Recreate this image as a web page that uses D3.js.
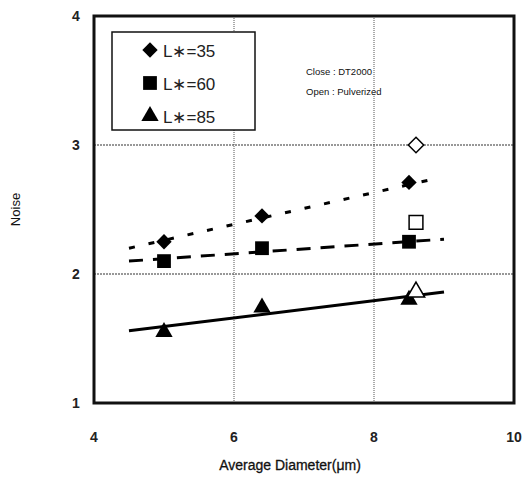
<!DOCTYPE html>
<html><head><meta charset="utf-8">
<script src="https://cdn.jsdelivr.net/npm/d3@7"></script>
<style>body{margin:0;background:#fff}svg text{font-family:"Liberation Sans",Arial,sans-serif}</style>
</head><body>
<svg id="c" width="522" height="478"></svg>
<script>
const xTicks = [4, 6, 8, 10];
const yTicks = [1, 2, 3, 4];
const diamX = [5, 6.4, 8.5];
const diamY = [2.25, 2.45, 2.71];
const sqX = [5, 6.4, 8.5];
const sqY = [2.1, 2.2, 2.25];
const triX = [5, 6.4, 8.5];
const triY = [1.55, 1.74, 1.8];
const openX = [8.6, 8.6, 8.6];
const openY = [3.0, 2.4, 1.86];
const diamFit = [[4.5, 2.2], [8.8, 2.73]];
const sqFit = [[4.5, 2.1], [9, 2.27]];
const triFit = [[4.5, 1.56], [9, 1.86]];
const legendLabels = ["L\u2217=35", "L\u2217=60", "L\u2217=85"];
const noteLines = ["Close : DT2000", "Open : Pulverized"];

const svg = d3.select("#c");
const x = d3.scaleLinear().domain([4, 10]).range([94, 514]);
const y = d3.scaleLinear().domain([1, 4]).range([403, 16]);

// grid
svg.append("g").selectAll("line").data([6, 8]).join("line")
  .attr("x1", d => x(d)).attr("x2", d => x(d)).attr("y1", y(4)).attr("y2", y(1))
  .attr("stroke", "#555").attr("stroke-width", 1).attr("stroke-dasharray", "1,1");
svg.append("g").selectAll("line").data([2, 3]).join("line")
  .attr("y1", d => y(d)).attr("y2", d => y(d)).attr("x1", x(4)).attr("x2", x(10))
  .attr("stroke", "#333").attr("stroke-width", 1.2).attr("stroke-dasharray", "2,1");

// frame
svg.append("rect").attr("x", x(4)).attr("y", y(4)).attr("width", x(10) - x(4)).attr("height", y(1) - y(4))
  .attr("fill", "none").attr("stroke", "#111").attr("stroke-width", 3);

// tick labels
svg.append("g").selectAll("text").data(xTicks).join("text")
  .attr("x", d => x(d)).attr("y", 442).attr("text-anchor", "middle")
  .attr("font-size", 14).attr("font-weight", "bold").attr("fill", "#222").text(d => d);
svg.append("g").selectAll("text").data(yTicks).join("text")
  .attr("x", 76).attr("y", d => y(d) + 5).attr("text-anchor", "middle")
  .attr("font-size", 14).attr("font-weight", "bold").attr("fill", "#222").text(d => d);

svg.append("text").attr("x", 290).attr("y", 470).attr("text-anchor", "middle")
  .attr("font-size", 14).attr("fill", "#111").attr("stroke", "#111").attr("stroke-width", 0.3)
  .text("Average Diameter(\u03bcm)");
svg.append("text").attr("transform", "translate(20," + y(2.5) + ") rotate(-90)")
  .attr("text-anchor", "middle").attr("font-size", 13).attr("fill", "#111").text("Noise");

// fit lines
const ln = d3.line().x(d => x(d[0])).y(d => y(d[1]));
svg.append("path").attr("d", ln(diamFit)).attr("stroke", "#000").attr("stroke-width", 3)
  .attr("fill", "none").attr("stroke-dasharray", "6,14");
svg.append("path").attr("d", ln(sqFit)).attr("stroke", "#000").attr("stroke-width", 3)
  .attr("fill", "none").attr("stroke-dasharray", "14,10");
svg.append("path").attr("d", ln(triFit)).attr("stroke", "#000").attr("stroke-width", 3)
  .attr("fill", "none");

const sym = {
  d: d3.symbol().type(d3.symbolDiamond2).size(150),
  s: d3.symbol().type(d3.symbolSquare).size(190),
  t: d3.symbol().type(d3.symbolTriangle).size(130)
};
function pts(xs, ys, s) {
  svg.append("g").selectAll("path").data(xs).join("path")
    .attr("d", sym[s]()).attr("transform", (d, i) => `translate(${x(d)},${y(ys[i])})`)
    .attr("fill", "#000");
}
pts(diamX, diamY, "d");
pts(sqX, sqY, "s");
pts(triX, triY, "t");
const openKinds = ["d", "s", "t"];
svg.append("g").selectAll("path").data(openX).join("path")
  .attr("d", (d, i) => sym[openKinds[i]]()).attr("transform", (d, i) => `translate(${x(d)},${y(openY[i])})`)
  .attr("fill", "#fff").attr("stroke", "#000").attr("stroke-width", 1.5);

// legend
svg.append("rect").attr("x", 112).attr("y", 32).attr("width", 143).attr("height", 98)
  .attr("fill", "#fff").attr("stroke", "#111").attr("stroke-width", 1.5);
const lg = svg.append("g").selectAll("g").data(legendLabels).join("g")
  .attr("transform", (d, i) => `translate(150,${50 + i * 33})`);
lg.append("path").attr("d", (d, i) => sym[openKinds[i]]()).attr("fill", "#000");
lg.append("text").attr("x", 13).attr("y", 7).attr("font-size", 17).attr("fill", "#222").text(d => d);

// note
svg.append("g").selectAll("text").data(noteLines).join("text")
  .attr("x", 306).attr("y", (d, i) => 75 + i * 20).attr("font-size", 9.5).attr("fill", "#111").text(d => d);
</script>
</body></html>
